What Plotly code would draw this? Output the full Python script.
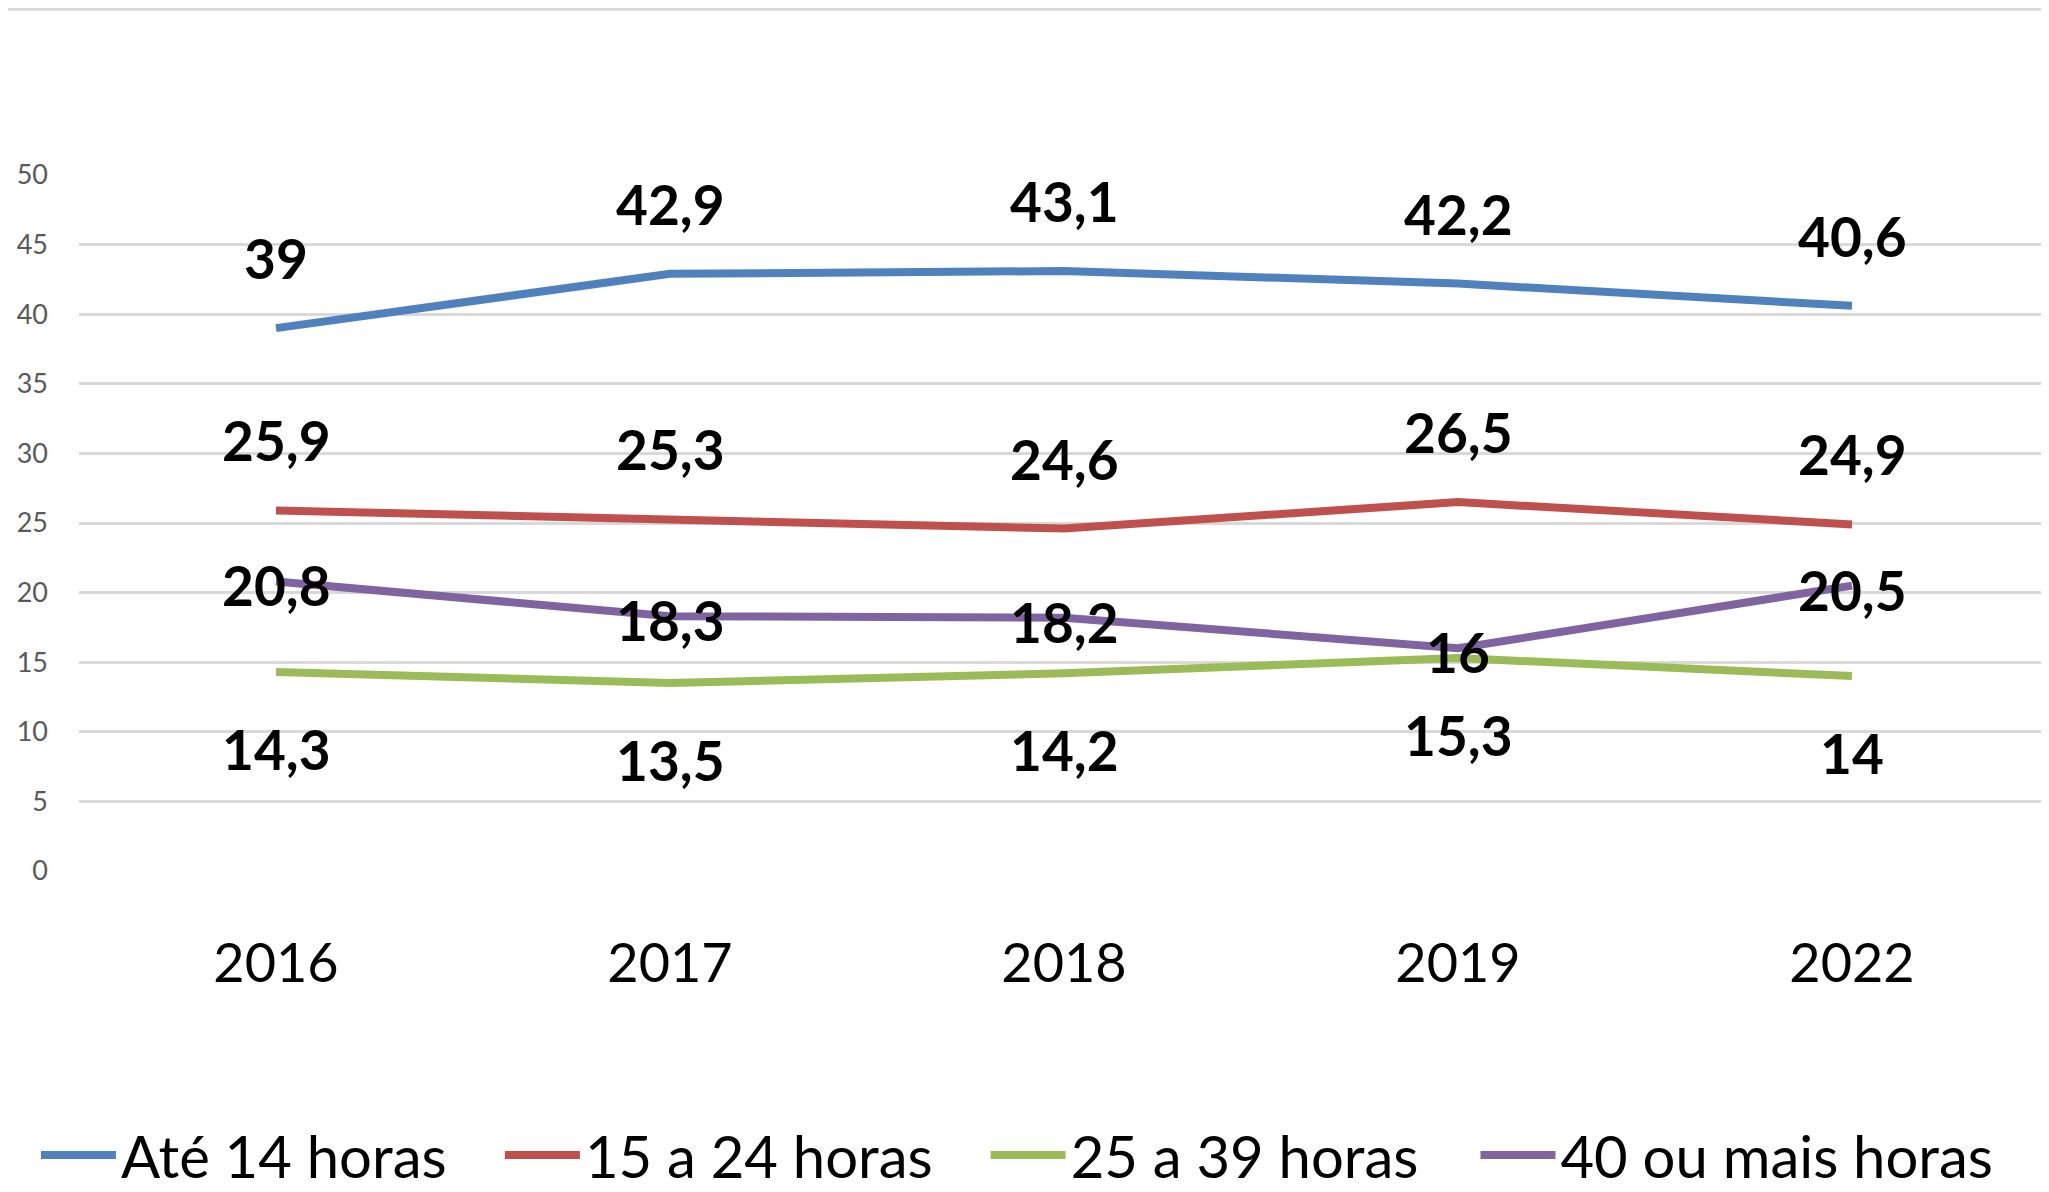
import plotly.graph_objects as go

years = ["2016", "2017", "2018", "2019", "2022"]
series_names = ["Até 14 horas", "15 a 24 horas", "25 a 39 horas", "40 ou mais horas"]
ate14 = [39, 42.9, 43.1, 42.2, 40.6]
h15_24 = [25.9, 25.3, 24.6, 26.5, 24.9]
h25_39 = [14.3, 13.5, 14.2, 15.3, 14]
h40_mais = [20.8, 18.3, 18.2, 16, 20.5]
y_ticks = [0, 5, 10, 15, 20, 25, 30, 35, 40, 45, 50]

colors = ["#4F81BD", "#C0504D", "#9BBB59", "#8064A2"]
label_shift = [70, 70, -77, -4]
all_series = [ate14, h15_24, h25_39, h40_mais]
legend_ids = ["legend", "legend2", "legend3", "legend4"]
legend_x = [0.0137, 0.241, 0.479, 0.719]

FONT = "Lato, Roboto, sans-serif"

def fmt(v):
    return f"{v:g}".replace(".", ",")

fig = go.Figure()
for name, vals, col, lid in zip(series_names, all_series, colors, legend_ids):
    fig.add_trace(go.Scatter(
        x=years, y=vals, name=name, mode="lines",
        line=dict(color=col, width=8), legend=lid,
    ))

annotations = []
for vals, shift in zip(all_series, label_shift):
    for i, v in enumerate(vals):
        # category axis: annotation x is the category's serial index
        annotations.append(dict(
            x=i, y=v, xref="x", yref="y", text=fmt(v), showarrow=False,
            yshift=shift, xanchor="center", yanchor="middle",
            font=dict(family=FONT, size=55, color="black", weight="bold"),
        ))

legend_style = dict(
    orientation="h", xref="container", yref="container",
    xanchor="left", y=0.031, yanchor="middle",
    font=dict(family=FONT, size=58, color="black"),
    itemwidth=75, bgcolor="rgba(0,0,0,0)",
)
legends = {lid: dict(legend_style, x=lx) for lid, lx in zip(legend_ids, legend_x)}

# page body has an 8px default margin, so the figure is offset by 8px
fig.update_layout(
    width=2041, height=1184,
    margin=dict(l=71, r=0, t=167, b=321),
    paper_bgcolor="white", plot_bgcolor="white",
    annotations=annotations,
    showlegend=True,
    **legends,
    shapes=[dict(type="line", xref="paper", yref="paper",
                 x0=-0.05, x1=1.01, y0=1.238, y1=1.238,
                 line=dict(color="#D9D9D9", width=3))],
    xaxis=dict(
        type="category", categoryorder="array", categoryarray=years,
        range=[-0.5, 4.5],
        showgrid=False, zeroline=False, showline=False, ticks="",
        tickfont=dict(family=FONT, size=54, color="black"),
        ticklabelstandoff=56,
    ),
    yaxis=dict(
        range=[0, 50], tickvals=y_ticks, showgrid=True,
        gridcolor="#D9D9D9", gridwidth=3, zeroline=False, showline=False,
        ticks="", tickfont=dict(family=FONT, size=27, color="#595959"),
        ticklabelstandoff=30,
    ),
)

fig.write_html("out.html")
